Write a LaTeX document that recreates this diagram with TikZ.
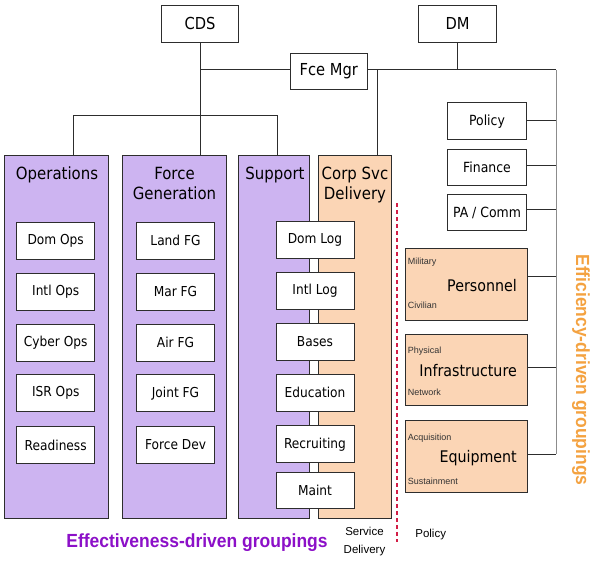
\documentclass[tikz,border=0pt]{standalone}
\usepackage{fontspec}
\setmainfont{DejaVu Sans}[FakeStretch=0.89]
\newfontfamily\arl{Liberation Sans}
\newfontfamily\arlb{Liberation Sans}[FakeStretch=0.92]
\definecolor{purplefill}{RGB}{205,180,241}
\definecolor{peach}{RGB}{251,213,181}
\definecolor{orangetext}{RGB}{244,162,64}
\definecolor{purpletext}{RGB}{140,16,200}
\definecolor{reddash}{RGB}{210,30,70}
\definecolor{ln}{RGB}{45,45,45}
\begin{document}
\begin{tikzpicture}[x=1pt,y=-1pt,
  conn/.style={draw=ln,line width=1pt},
  bus/.style={draw=black!45,line width=1pt},
  box/.style={draw=ln,line width=1pt,fill=white,inner sep=0pt,minimum width=78pt,minimum height=36.7pt,font=\fontsize{13.7}{16}\selectfont},
  topbox/.style={box,minimum width=77.5pt,minimum height=37pt,font=\fontsize{16.5}{19}\selectfont},
  rbox/.style={box,minimum width=78.6pt,minimum height=36.5pt,font=\fontsize{14}{17}\selectfont},
  colbox/.style={draw=ln,line width=1pt,inner sep=0pt,minimum height=363.3pt},
  pbox/.style={draw=ln,line width=1pt,fill=peach,inner sep=0pt,minimum width=122pt,minimum height=72pt},
  ctitle/.style={anchor=base,inner sep=0pt,font=\fontsize{16.8}{20.5}\selectfont},
  big/.style={anchor=base east,inner sep=0pt,font=\fontsize{16}{19}\selectfont},
  small/.style={anchor=base west,inner sep=0pt,font=\arl\fontsize{9}{11}\selectfont,text=black!80},
  note/.style={inner sep=0pt,font=\arl\fontsize{11.5}{17.3}\selectfont,align=center}
]
\path[use as bounding box,fill=white] (0,0) rectangle (595,561);

% top boxes
\node[topbox] (CDS) at (200,23.7) {CDS};
\node[topbox] (DM) at (457.5,23.7) {DM};
\node[topbox,minimum height=36pt] (FM) at (328.8,71.7) {Fce Mgr};

% columns
\node[colbox,fill=purplefill,minimum width=104pt] (Ops) at (56.3,336.7) {};
\node[colbox,fill=purplefill,minimum width=104pt] (FG) at (174.7,336.7) {};
\node[colbox,fill=purplefill,minimum width=71.3pt] (Sup) at (274.3,336.7) {};
\node[colbox,fill=peach,minimum width=73.4pt] (CSD) at (355,336.7) {};

\node[ctitle] (OpsT) at (57,179.3) {Operations};
\node[ctitle] (FGT1) at (174.5,179.3) {Force};
\node[ctitle] (FGT2) at (174.5,199.8) {Generation};
\node[ctitle] (SupT) at (275,179.3) {Support};
\node[ctitle] (CSDT1) at (355,179.3) {Corp Svc};
\node[ctitle] (CSDT2) at (355,199.8) {Delivery};

% connectors top
\coordinate (busTop) at (556,70);
\coordinate (csTop) at (377.7,70);
\coordinate (bar) at (200,115.7);
\draw[conn] (CDS.south) -- (CDS.south |- FG.north);
\draw[conn] (CDS.south |- busTop) -- ([yshift=1.7pt]FM.west);
\draw[conn] ([yshift=1.7pt]FM.east) -- (busTop);
\draw[conn] (DM.south) -- (DM.south |- busTop);
\draw[conn] (csTop) -- (csTop |- CSD.north);
\draw[conn] ([xshift=17pt]Ops.north) |- (bar) -| ([xshift=3pt]Sup.north);

% operations boxes
\node[box] (o1) at (55.7,240.7) {Dom Ops};
\node[box] (o2) at (55.7,291.7) {Intl Ops};
\node[box] (o3) at (55.7,342.8) {Cyber Ops};
\node[box] (o4) at (55.7,393.3) {ISR Ops};
\node[box] (o5) at (55.7,445) {Readiness};
% FG boxes
\node[box,minimum width=77.6pt] (f1) at (175.5,240.7) {Land FG};
\node[box,minimum width=77.6pt] (f2) at (175.5,291.7) {Mar FG};
\node[box,minimum width=77.6pt] (f3) at (175.5,342.8) {Air FG};
\node[box,minimum width=77.6pt] (f4) at (175.5,393.3) {Joint FG};
\node[box,minimum width=77.6pt] (f5) at (175.5,445) {Force Dev};
% support boxes
\node[box] (s1) at (315,239.7) {Dom Log};
\node[box] (s2) at (315,291) {Intl Log};
\node[box] (s3) at (315,342) {Bases};
\node[box] (s4) at (315,392.7) {Education};
\node[box] (s5) at (315,444.3) {Recruiting};
\node[box,minimum height=35.6pt] (s6) at (315,490.5) {Maint};

% right side small boxes
\node[rbox,minimum height=37pt] (Pol) at (487,121.2) {Policy};
\node[rbox] (Fin) at (487,167.3) {Finance};
\node[rbox,minimum height=35.7pt] (PA) at (487,212.8) {PA / Comm};

% peach boxes
\node[pbox] (Pers) at (466.7,285) {};
\node[pbox,minimum height=71pt] (Inf) at (466.7,370.5) {};
\node[pbox,minimum height=72.3pt] (Eq) at (466.7,456.2) {};
\node[big] (PersT) at (517,291.7) {Personnel};
\node[big] (InfT) at (517,376.7) {Infrastructure};
\node[big] (EqT) at (517,462.3) {Equipment};
\node[small] (m1) at (407.7,264.3) {Military};
\node[small] (m2) at (407.7,308.3) {Civilian};
\node[small] (m3) at (407.7,353.3) {Physical};
\node[small] (m4) at (407.7,395.7) {Network};
\node[small] (m5) at (407.7,440.7) {Acquisition};
\node[small] (m6) at (407.7,485) {Sustainment};

% right bus
\draw[bus] (busTop) -- ([yshift=2pt]Eq.east -| busTop);
\draw[conn] ([yshift=1pt]Pol.east) -- ([yshift=1pt]Pol.east -| busTop);
\draw[conn] ([yshift=1.5pt]Fin.east) -- ([yshift=1.5pt]Fin.east -| busTop);
\draw[conn] ([yshift=2.8pt]PA.east) -- ([yshift=2.8pt]PA.east -| busTop);
\draw[conn] ([yshift=8.3pt]Pers.east) -- ([yshift=8.3pt]Pers.east -| busTop);
\draw[conn] ([yshift=2.8pt]Inf.east) -- ([yshift=2.8pt]Inf.east -| busTop);
\draw[conn] ([yshift=2pt]Eq.east) -- ([yshift=2pt]Eq.east -| busTop);

% dashed divider
\coordinate (dTop) at (397,203.3);
\coordinate (dBot) at (397,541.7);
\draw[draw=reddash,line width=1.3pt,dash pattern=on 4pt off 3pt] (dTop) -- (dBot);

% bottom notes
\node[note] (SD) at (364.5,541.5) {Service\\Delivery};
\node[note,anchor=base] (PolN) at (430.7,537.3) {Policy};

% grouping labels
\node[anchor=base,inner sep=0pt,text=purpletext,font=\arlb\bfseries\fontsize{19}{22}\selectfont] (EffL) at (197,547.3) {Effectiveness-driven groupings};
\node[rotate=-90,inner sep=0pt,text=orangetext,font=\arlb\bfseries\fontsize{19}{22}\selectfont] (EffR) at (581,370) {Efficiency-driven groupings};
\end{tikzpicture}
\end{document}
